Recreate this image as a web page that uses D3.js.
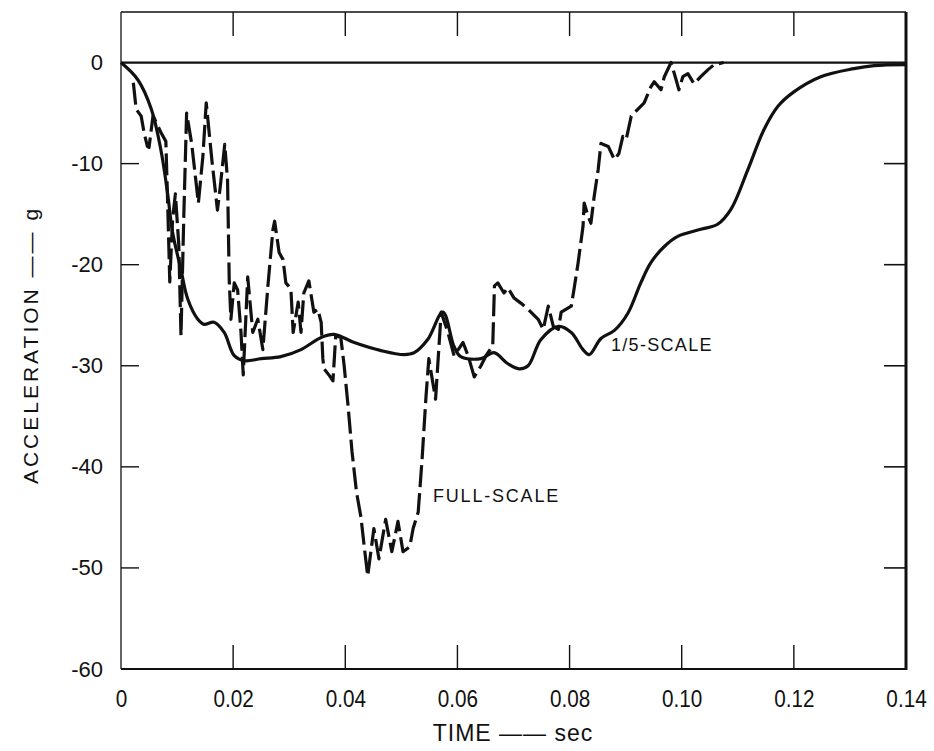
<!DOCTYPE html>
<html>
<head>
<meta charset="utf-8">
<script src="https://cdn.jsdelivr.net/npm/d3@7/dist/d3.min.js"></script>
<style>
  html, body { margin: 0; padding: 0; background: #fff; }
  svg { display: block; }
  text { font-family: "Liberation Sans", Arial, sans-serif; fill: #111; }
</style>
</head>
<body>
<svg id="chart" width="934" height="751"></svg>
<script>
// Axis ticks
const xTicks = [0, 0.02, 0.04, 0.06, 0.08, 0.10, 0.12, 0.14];
const xTickLabels = ["0", "0.02", "0.04", "0.06", "0.08", "0.10", "0.12", "0.14"];
const yTicks = [0, -10, -20, -30, -40, -50, -60];

// 1/5-scale model: time (sec) and acceleration (g)
const scaleTime = [0, 0.003, 0.0054, 0.0071, 0.0083, 0.0092, 0.0107, 0.0119, 0.0137, 0.0148,
  0.0166, 0.0184, 0.0202, 0.0220, 0.0250, 0.0285, 0.0321, 0.0357, 0.0380, 0.0416,
  0.0464, 0.0505, 0.0523, 0.0547, 0.0574, 0.0594, 0.0606, 0.0642, 0.0665, 0.0690,
  0.0710, 0.0726, 0.0749, 0.0780, 0.0803, 0.0824, 0.0835, 0.0856, 0.0880, 0.0904,
  0.0927, 0.0945, 0.0969, 0.0993, 0.1034, 0.1064, 0.1088, 0.1118, 0.1147, 0.1172,
  0.1200, 0.1248, 0.1307, 0.1343, 0.1400];
const scaleAccel = [0, -1.7, -4.6, -8.6, -12.9, -16.8, -20.5, -23.4, -25.4, -25.9,
  -25.7, -26.7, -29.0, -29.5, -29.3, -29.1, -28.4, -27.2, -26.9, -27.7,
  -28.5, -28.9, -28.7, -27.4, -24.7, -28.1, -29.1, -29.3, -28.7, -29.8,
  -30.3, -30.0, -27.4, -26.1, -26.7, -28.4, -28.9, -27.3, -26.5, -24.8,
  -21.8, -19.8, -18.2, -17.2, -16.5, -16.0, -14.5, -10.6, -6.6, -4.3,
  -2.9, -1.4, -0.6, -0.3, -0.2];

// Full-scale vehicle: time (sec) and acceleration (g)
const fullTime = [0.0022, 0.0027, 0.0036, 0.0041, 0.0047, 0.0050, 0.0057, 0.0060, 0.0071, 0.0080,
  0.0083, 0.0087, 0.0092, 0.0097, 0.0103, 0.0107, 0.0112, 0.0117, 0.0126, 0.0138,
  0.0146, 0.0152, 0.0162, 0.0172, 0.0177, 0.0185, 0.0190, 0.0193, 0.0196, 0.0202,
  0.0208, 0.0214, 0.0218, 0.0226, 0.0235, 0.0244, 0.0253, 0.0262, 0.0271, 0.0274,
  0.0282, 0.0289, 0.0294, 0.0303, 0.0307, 0.0316, 0.0321, 0.0326, 0.0335, 0.0344,
  0.0351, 0.0357, 0.0360, 0.0362, 0.0372, 0.0378, 0.0383, 0.0392, 0.0398, 0.0405,
  0.0412, 0.0420, 0.0428, 0.0434, 0.0440, 0.0451, 0.0460, 0.0472, 0.0483, 0.0494,
  0.0503, 0.0515, 0.0521, 0.0530, 0.0537, 0.0544, 0.0549, 0.0561, 0.0571, 0.0583,
  0.0594, 0.0610, 0.0619, 0.0630, 0.0642, 0.0651, 0.0663, 0.0666, 0.0672, 0.0683,
  0.0690, 0.0701, 0.0713, 0.0726, 0.0744, 0.0753, 0.0762, 0.0771, 0.0780, 0.0785,
  0.0794, 0.0803, 0.0808, 0.0815, 0.0824, 0.0826, 0.0833, 0.0838, 0.0844, 0.0851,
  0.0856, 0.0869, 0.0880, 0.0888, 0.0895, 0.0901, 0.0910, 0.0922, 0.0933, 0.0945,
  0.0951, 0.0963, 0.0969, 0.0981, 0.0990, 0.0995, 0.1002, 0.1011, 0.1022, 0.1034,
  0.1047, 0.1058, 0.1075];
const fullAccel = [-2.0, -4.6, -5.3, -6.9, -8.3, -8.4, -5.3, -5.6, -6.9, -7.8,
  -13.5, -21.7, -15.5, -13.0, -18.0, -27.0, -15.2, -5.0, -8.0, -13.9,
  -9.3, -4.0, -9.6, -14.6, -12.3, -8.1, -11.6, -21.5, -25.4, -21.8,
  -22.5, -26.7, -30.9, -21.2, -26.7, -25.4, -28.4, -22.1, -16.5, -15.7,
  -18.8, -19.5, -21.8, -22.4, -26.7, -23.7, -26.7, -22.8, -21.6, -24.7,
  -24.4, -25.7, -29.3, -30.3, -31.0, -31.5, -27.0, -27.2, -30.0, -34.0,
  -38.5, -42.5, -45.0, -48.0, -50.8, -46.1, -49.1, -45.2, -48.4, -45.4,
  -48.4, -47.9, -46.1, -44.5, -39.2, -33.0, -29.3, -33.3, -24.7, -26.7,
  -29.0, -27.7, -29.0, -31.1, -30.0, -29.0, -28.0, -22.1, -21.8, -22.8,
  -22.3, -23.3, -23.8, -24.4, -25.4, -26.4, -24.1, -26.1, -26.4, -24.7,
  -24.4, -24.1, -22.4, -19.9, -16.2, -13.9, -15.2, -15.9, -13.2, -10.6,
  -8.0, -8.3, -9.6, -9.0, -7.3, -7.6, -5.3, -4.6, -4.0, -2.4,
  -1.9, -2.7, -1.4, 0.0, -1.7, -2.7, -1.4, -1.1, -2.1, -1.4,
  -0.7, -0.2, 0.0];

const svg = d3.select("#chart");
const plotLeft = 121, plotRight = 906, plotTop = 12, plotBottom = 669;

const x = d3.scaleLinear().domain([0, 0.14]).range([plotLeft, plotRight]);
const y = d3.scaleLinear().domain([-60, 5]).range([plotBottom, plotTop]);

// Frame
const frame = svg.append("g").attr("stroke", "#111").attr("fill", "none");
frame.append("line").attr("x1", plotLeft).attr("x2", plotRight).attr("y1", plotTop).attr("y2", plotTop).attr("stroke-width", 1.3);
frame.append("line").attr("x1", plotLeft).attr("x2", plotLeft).attr("y1", plotTop).attr("y2", plotBottom).attr("stroke-width", 1.3);
frame.append("line").attr("x1", plotRight).attr("x2", plotRight).attr("y1", plotTop).attr("y2", plotBottom + 1).attr("stroke-width", 3);
frame.append("line").attr("x1", plotLeft).attr("x2", plotRight).attr("y1", plotBottom).attr("y2", plotBottom).attr("stroke-width", 2);

// Zero reference line
svg.append("line")
  .attr("x1", x(0)).attr("x2", x(0.14))
  .attr("y1", y(0)).attr("y2", y(0))
  .attr("stroke", "#111").attr("stroke-width", 2.2);

// Inner tick marks
const innerX = xTicks.slice(1, -1);
const innerY = yTicks.slice(1, -1);
const ticks = svg.append("g").attr("stroke", "#111");
ticks.selectAll(".tt").data(innerX).join("line")
  .attr("x1", d => x(d)).attr("x2", d => x(d))
  .attr("y1", plotTop).attr("y2", plotTop + 24).attr("stroke-width", 1.4);
ticks.selectAll(".tb").data(innerX).join("line")
  .attr("x1", d => x(d)).attr("x2", d => x(d))
  .attr("y1", plotBottom).attr("y2", plotBottom - 24).attr("stroke-width", 1.4);
ticks.selectAll(".tl").data(innerY).join("line")
  .attr("x1", plotLeft).attr("x2", plotLeft + 18)
  .attr("y1", d => y(d)).attr("y2", d => y(d)).attr("stroke-width", 1.4);
ticks.selectAll(".tr").data(innerY).join("line")
  .attr("x1", plotRight).attr("x2", plotRight - 22)
  .attr("y1", d => y(d)).attr("y2", d => y(d)).attr("stroke-width", 1.6);

// Axis labels via d3 axes (lines hidden, labels kept)
const xAxis = svg.append("g")
  .attr("transform", `translate(0,${plotBottom})`)
  .call(d3.axisBottom(x).tickValues(xTicks).tickFormat((d, i) => xTickLabels[i]).tickSize(0).tickPadding(38));
xAxis.select(".domain").remove();
xAxis.selectAll("text")
  .attr("font-family", "Liberation Sans, Arial, sans-serif")
  .attr("font-size", 23).attr("fill", "#111")
  .attr("dy", 0)
  .attr("transform", "scale(0.9,1)");

const yAxis = svg.append("g")
  .attr("transform", `translate(${plotLeft},0)`)
  .call(d3.axisLeft(y).tickValues(yTicks).tickFormat(d => String(d)).tickSize(0).tickPadding(18));
yAxis.select(".domain").remove();
yAxis.selectAll("text")
  .attr("font-family", "Liberation Sans, Arial, sans-serif")
  .attr("font-size", 22).attr("fill", "#111");

// Axis titles
svg.append("text")
  .attr("x", 513).attr("y", 741)
  .attr("text-anchor", "middle")
  .attr("font-size", 23)
  .attr("letter-spacing", 1)
  .text("TIME —— sec");

svg.append("text")
  .attr("transform", "translate(38,345) rotate(-90)")
  .attr("text-anchor", "middle")
  .attr("font-size", 21)
  .attr("letter-spacing", 3)
  .text("ACCELERATION —— g");

// Curves
const scaleData = scaleTime.map((t, i) => ({ t, g: scaleAccel[i] }));
const fullData = fullTime.map((t, i) => ({ t, g: fullAccel[i] }));

svg.append("path")
  .datum(scaleData)
  .attr("fill", "none").attr("stroke", "#111").attr("stroke-width", 3.2)
  .attr("stroke-linejoin", "round")
  .attr("d", d3.line().x(d => x(d.t)).y(d => y(d.g)).curve(d3.curveCatmullRom.alpha(0.5)));

svg.append("path")
  .datum(fullData)
  .attr("fill", "none").attr("stroke", "#111").attr("stroke-width", 3.2)
  .attr("stroke-linejoin", "round")
  .attr("stroke-dasharray", "22,6")
  .attr("d", d3.line().x(d => x(d.t)).y(d => y(d.g)));

// Series labels
svg.append("text")
  .attr("x", 433).attr("y", 502)
  .attr("font-size", 18).attr("letter-spacing", 1.8)
  .text("FULL-SCALE");
svg.append("text")
  .attr("x", 611).attr("y", 351)
  .attr("font-size", 18).attr("letter-spacing", 1.3)
  .text("1/5-SCALE");
</script>
</body>
</html>
